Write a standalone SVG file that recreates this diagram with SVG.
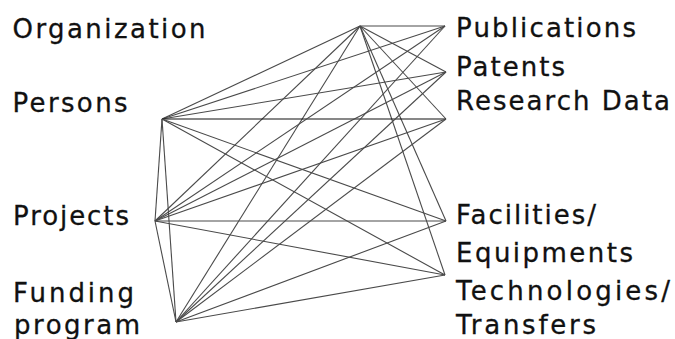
<svg xmlns="http://www.w3.org/2000/svg" width="675" height="339" viewBox="0 0 675 339">
  <style>
    .lbl { font-family: "DejaVu Sans", Verdana, sans-serif; font-size: 26px; fill: #111; stroke: #111; stroke-width: 0.3; }
    .edge { stroke: #4a4a4a; stroke-width: 1.1; fill: none; }
    .strong { stroke: #111; }
  </style>
  <rect width="675" height="339" fill="#fff"/>

  <!-- connectors: every entity linked to every result type -->
  <g id="connectors">
    <!-- Organization hub -->
    <line class="edge" x1="360" y1="26" x2="445" y2="26"/>
    <line class="edge" x1="360" y1="26" x2="446" y2="72"/>
    <line class="edge" x1="360" y1="26" x2="446" y2="119"/>
    <line class="edge" x1="360" y1="26" x2="446" y2="221"/>
    <line class="edge" x1="360" y1="26" x2="445" y2="275"/>
    <line class="edge" x1="360" y1="26" x2="162" y2="119"/>
    <line class="edge" x1="360" y1="26" x2="155" y2="221"/>
    <line class="edge" x1="360" y1="26" x2="176" y2="322"/>
    <!-- Persons -->
    <line class="edge" x1="162" y1="119" x2="445" y2="26"/>
    <line class="edge" x1="162" y1="119" x2="446" y2="72"/>
    <line class="edge strong" x1="162" y1="119" x2="446" y2="119"/>
    <line class="edge" x1="162" y1="119" x2="446" y2="221"/>
    <line class="edge" x1="162" y1="119" x2="445" y2="275"/>
    <!-- Projects -->
    <line class="edge" x1="155" y1="221" x2="445" y2="26"/>
    <line class="edge" x1="155" y1="221" x2="446" y2="72"/>
    <line class="edge" x1="155" y1="221" x2="446" y2="119"/>
    <line class="edge" x1="155" y1="221" x2="446" y2="221"/>
    <line class="edge" x1="155" y1="221" x2="445" y2="275"/>
    <!-- Funding program -->
    <line class="edge" x1="176" y1="322" x2="445" y2="26"/>
    <line class="edge" x1="176" y1="322" x2="446" y2="72"/>
    <line class="edge" x1="176" y1="322" x2="446" y2="119"/>
    <line class="edge" x1="176" y1="322" x2="446" y2="221"/>
    <line class="edge" x1="176" y1="322" x2="445" y2="275"/>
    <!-- links among the left-hand entities -->
    <line class="edge" x1="162" y1="119" x2="155" y2="221"/>
    <line class="edge" x1="162" y1="119" x2="176" y2="322"/>
    <line class="edge" x1="155" y1="221" x2="176" y2="322"/>
  </g>

  <!-- left-hand entities -->
  <g id="organization"><text class="lbl" x="12.5" y="38" textLength="193" lengthAdjust="spacing">Organization</text></g>
  <g id="persons"><text class="lbl" x="12.5" y="112" textLength="115" lengthAdjust="spacing">Persons</text></g>
  <g id="projects"><text class="lbl" x="13" y="225" textLength="116" lengthAdjust="spacing">Projects</text></g>
  <g id="funding-program">
    <text class="lbl" x="13" y="302" textLength="121" lengthAdjust="spacing">Funding</text>
    <text class="lbl" x="14" y="334" textLength="126" lengthAdjust="spacing">program</text>
  </g>

  <!-- right-hand result types -->
  <g id="publications"><text class="lbl" x="456" y="37" textLength="180" lengthAdjust="spacing">Publications</text></g>
  <g id="patents"><text class="lbl" x="456" y="76" textLength="109" lengthAdjust="spacing">Patents</text></g>
  <g id="research-data"><text class="lbl" x="456" y="110" textLength="214" lengthAdjust="spacing">Research Data</text></g>
  <g id="facilities">
    <text class="lbl" x="456" y="224" textLength="140" lengthAdjust="spacing">Facilities/</text>
    <text class="lbl" x="456" y="262" textLength="177" lengthAdjust="spacing">Equipments</text>
  </g>
  <g id="technologies">
    <text class="lbl" x="456" y="300" textLength="214" lengthAdjust="spacing">Technologies/</text>
    <text class="lbl" x="456" y="334" textLength="140" lengthAdjust="spacing">Transfers</text>
  </g>
</svg>
